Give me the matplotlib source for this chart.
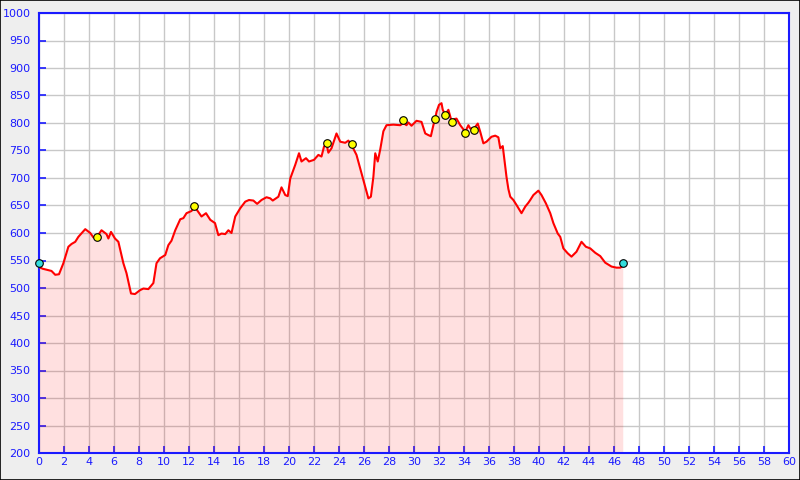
import matplotlib
matplotlib.use("Agg")
import matplotlib.pyplot as plt
from matplotlib.patches import Rectangle

# distance (km) and elevation (m)
dist = [0.0, 0.3, 1.0, 1.3, 1.6, 1.95, 2.35, 2.6, 2.9, 3.15, 3.7, 4.1, 4.35, 4.67, 5.0, 5.4, 5.55,
        5.76, 6.08, 6.35, 6.75, 7.0, 7.36, 7.68, 8.08, 8.35, 8.75, 9.15, 9.4, 9.68, 10.1, 10.35,
        10.6, 10.9, 11.3, 11.55, 11.8, 12.2, 12.4, 12.6, 13.0, 13.36, 13.7, 14.08, 14.35, 14.6,
        14.9, 15.15, 15.4, 15.7, 16.1, 16.5, 16.8, 17.15, 17.45, 17.8, 18.2, 18.5, 18.7, 19.15,
        19.4, 19.7, 19.9, 20.1, 20.5, 20.8, 21.0, 21.36, 21.6, 22.0, 22.35, 22.6, 22.8, 23.0,
        23.15, 23.4, 23.8, 24.1, 24.5, 24.75, 25.0, 25.4, 25.8, 26.1, 26.35, 26.55, 26.75, 26.9,
        27.1, 27.3, 27.55, 27.8, 28.35, 28.9, 29.15, 29.4, 29.55, 29.8, 30.2, 30.6, 30.9, 31.15,
        31.35, 31.55, 31.7, 31.8, 32.0, 32.2, 32.3, 32.5, 32.75, 33.0, 33.2, 33.4, 33.7, 34.1,
        34.35, 34.5, 34.8, 35.1, 35.3, 35.55, 35.8, 36.2, 36.5, 36.75, 36.9, 37.1, 37.2, 37.4,
        37.55, 37.7, 37.95, 38.2, 38.6, 38.9, 39.15, 39.3, 39.55, 39.95, 40.2, 40.55, 40.9,
        41.15, 41.5, 41.7, 41.95, 42.3, 42.6, 43.0, 43.4, 43.75, 44.1, 44.5, 44.9, 45.3, 45.8,
        46.2, 46.5, 46.7]
elev = [538, 535, 531, 524, 525, 545, 575, 580, 584, 593, 607, 600, 592, 594, 605, 598, 590,
        602, 590, 584, 545, 527, 490, 489, 496, 499, 498, 509, 545, 554, 560, 578,
        586, 605, 625, 627, 636, 640, 647, 643, 630, 636, 624, 618, 596, 599,
        598, 605, 600, 630, 645, 657, 660, 659, 653, 660, 665, 663, 659, 666,
        683, 669, 667, 699, 724, 745, 730, 736, 730, 733, 742, 739, 757, 762,
        746, 754, 781, 766, 764, 768, 760, 742, 709, 684, 663, 666, 702, 745,
        730, 752, 785, 796, 797, 796, 800, 796, 801, 795, 804, 802, 781, 778,
        776, 796, 808, 820, 833, 836, 824, 815, 824, 804, 807, 808, 796, 784,
        796, 790, 790, 799, 784, 763, 766, 775, 777, 774, 754, 758, 739, 702,
        680, 666, 660, 651, 636, 648, 655, 660, 669, 677, 669, 654, 636,
        618, 599, 593, 572, 563, 557, 566, 584, 575, 572, 564, 558, 546, 539,
        537, 537, 540]

# start / end points
end_x = [0.0, 46.7]
end_y = [545, 545]
# waypoints
wp_x = [4.67, 12.4, 23.0, 25.0, 29.15, 31.7, 32.5, 33.0, 34.1, 34.8]
wp_y = [593, 649, 763, 761, 805, 808, 815, 802, 782, 788]

x_ticks = list(range(0, 61, 2))
y_ticks = list(range(200, 1001, 50))

blue = "#1a1aff"

fig = plt.figure(figsize=(8, 4.8), dpi=100, facecolor="#eeeeee")
fig.patches.append(Rectangle((0.0006, 0.001), 0.9988, 0.998, transform=fig.transFigure,
                             fill=False, edgecolor="black", linewidth=1.2, zorder=10))
ax = fig.add_axes([39 / 800, 27 / 480, 750 / 800, 440 / 480])
ax.set_facecolor("white")

ax.set_xlim(0, 60)
ax.set_ylim(200, 1000)
ax.set_xticks(x_ticks)
ax.set_yticks(y_ticks)
ax.grid(True, color="#c8c8c8", linewidth=1.0, zorder=0)
ax.set_axisbelow(True)

ax.fill_between(dist, elev, 200, color="#ff0000", alpha=0.12, linewidth=0, zorder=2)
ax.plot(dist, elev, color="#ff0000", linewidth=1.5, zorder=3)

ax.scatter(end_x, end_y, s=30, color="#33dddd", edgecolor="black", linewidth=0.8, zorder=5, clip_on=False)
ax.scatter(wp_x, wp_y, s=30, color="#ffff00", edgecolor="black", linewidth=0.8, zorder=5)

for sp in ax.spines.values():
    sp.set_color(blue)
    sp.set_linewidth(1.5)

ax.tick_params(axis="both", direction="in", length=5, width=1.2, color=blue,
               labelcolor=blue, labelsize=8)
ax.tick_params(axis="y", pad=6)
ax.tick_params(axis="x", pad=3)

fig.savefig("out.png", dpi=100, facecolor="#eeeeee")
